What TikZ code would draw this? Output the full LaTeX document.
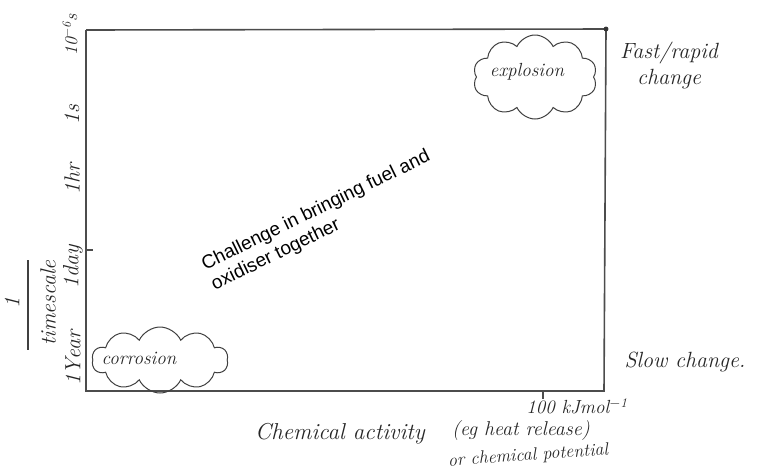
\documentclass[tikz,border=0pt]{standalone}
\usepackage{fontspec}
\newfontfamily\typedfont{Liberation Sans}
\usetikzlibrary{shapes.symbols}

\begin{document}
\begin{tikzpicture}[x=1pt, y=-1pt,
  hand/.style={font=\fontsize{#1}{26}\selectfont\itshape, text=black!85, inner sep=1pt},
  hand/.default=19,
  puff/.style={cloud, draw, black!75, line width=1pt, cloud puffs=10, cloud puff arc=130, cloud ignores aspect, inner sep=0pt}]

\useasboundingbox (0,0) rectangle (762,475);

% frame
\coordinate (o)  at (86,391);
\coordinate (tl) at (86,30);
\coordinate (tr) at (606,29);
\coordinate (br) at (604,391);
\coordinate (day) at (86,250);
\coordinate (kj) at (543,391);

\begin{scope}[line width=1.6pt, black!70]
\draw (tl) -- (o) -- (br) -- (tr) -- (tl);
\draw (day) -- ++(7,0);
\draw (kj) -- ++(0,8);
\end{scope}
\filldraw [black!80] (tr) circle (2.2);

% clouds
\node [puff, minimum width=124, minimum height=84] (boom) at (535,77) {};
\node [puff, minimum width=136, minimum height=66] (rust) at (160,360) {};
\node [hand] (boomtxt) at (527,72) {explosion};
\node [hand] (rusttxt) at (139,358) {corrosion};

% time axis
\node [hand=18, rotate=90] (ymicro) at (70,35) {10\textsuperscript{$-$6}s};
\node [hand=22, rotate=90] (ysec) at (72,115) {1s};
\node [hand=22, rotate=90] (yhour) at (72,179) {1hr};
\node [hand=22, rotate=90] (yday) at (73,267) {1day};
\node [hand=22, rotate=90] (yyear) at (73,358) {1Year};

\node [hand=22, rotate=90] (yone) at (12,303) {1};
\node [hand=22, rotate=90] (ytime) at (48,303) {timescale};
\coordinate (bartop) at (28,260);
\coordinate (barbot) at (28,350);
\draw [line width=1.2pt, black!75] (bartop) -- (barbot);

% activity axis
\node [hand=19] (kjlabel) at (577,406) {100 kJmol\textsuperscript{$-$1}};
\node [hand=23] (xlabel) at (340,434) {Chemical activity};
\node [hand=20] (xnote) at (521,430) {(eg heat release)};
\node [hand=18, rotate=4] (xnote2) at (528,456) {or chemical potential};

% right side
\node [hand=22, align=center] (fast) at (669,65) {Fast/rapid\\change};
\node [hand=22] (slow) at (685,362) {Slow change.};

% typed text
\node [font=\typedfont\fontsize{19}{22}\selectfont, rotate=26, anchor=north west, align=left, inner sep=0pt] (chal) at (199,258) {Challenge in bringing fuel and\\oxidiser together};

\end{tikzpicture}
\end{document}
